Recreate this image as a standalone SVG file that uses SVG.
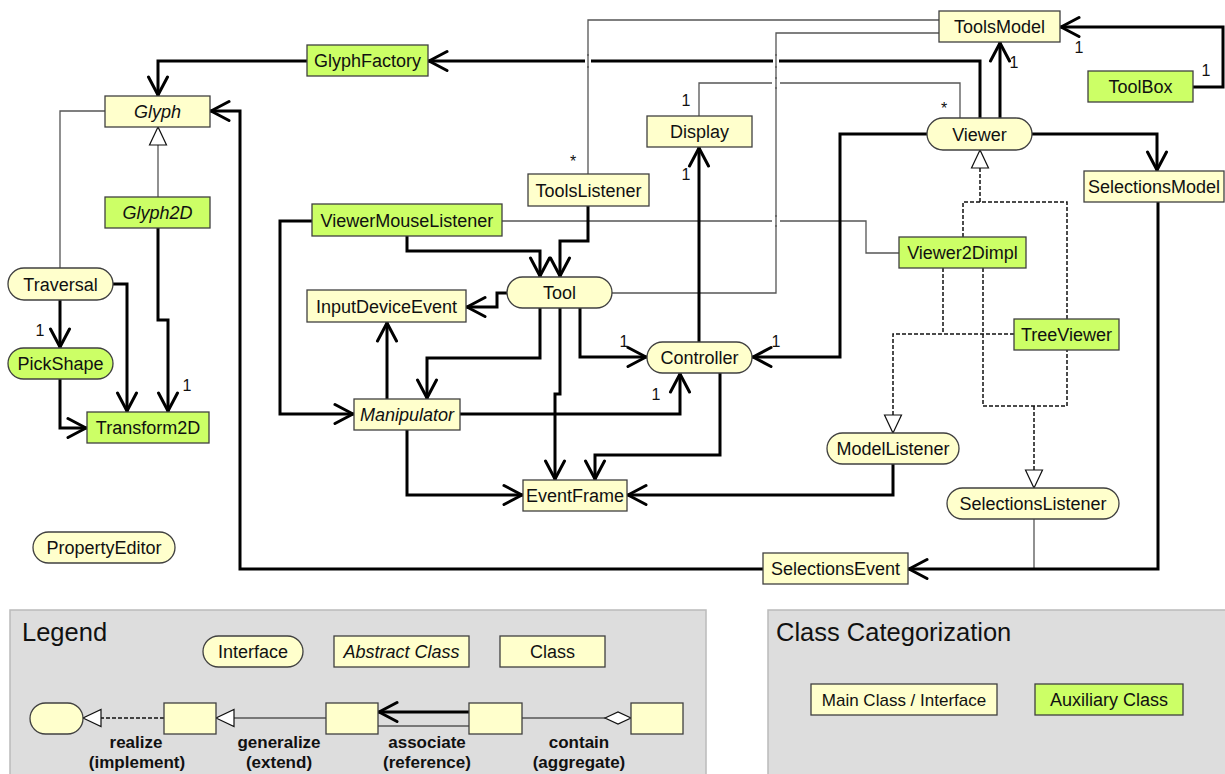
<svg xmlns="http://www.w3.org/2000/svg" width="1225" height="774" viewBox="0 0 1225 774">
  <defs>
    <style>
      .cls { fill: #FFFFCC; stroke: #404040; stroke-width: 1.3; }
      .aux { fill: #CCFF66; stroke: #404040; stroke-width: 1.3; }
      .t { font-family: "Liberation Sans", Arial, sans-serif; font-size: 18px; text-anchor: middle; fill: #111; }
      .it { font-style: italic; }
      .m { font-family: "Liberation Sans", Arial, sans-serif; font-size: 16px; text-anchor: middle; fill: #111; }
      .lb { font-family: "Liberation Sans", Arial, sans-serif; font-size: 17px; font-weight: bold; text-anchor: middle; fill: #111; }
      .title { font-family: "Liberation Sans", Arial, sans-serif; font-size: 25.5px; fill: #111; }
      .assoc { fill: none; stroke: #000; stroke-width: 3; marker-end: url(#open); }
      .thin { fill: none; stroke: #555; stroke-width: 1.3; }
      .real { fill: none; stroke: #111; stroke-width: 1.5; stroke-dasharray: 4 2; }
      .gen { marker-end: url(#tri); }
      .hop { fill: none; stroke: #fff; stroke-width: 6; }
      .panel { fill: #DDDDDD; stroke: #BBBBBB; stroke-width: 1.5; }
    </style>
    <marker id="open" markerUnits="userSpaceOnUse" viewBox="-22 -12 24 24" refX="1" refY="0" markerWidth="24" markerHeight="24" orient="auto">
      <path d="M-18,-9.5 L0,0 L-18,9.5" fill="none" stroke="#000" stroke-width="3" stroke-linejoin="round" stroke-linecap="round"/>
    </marker>
    <marker id="tri" markerUnits="userSpaceOnUse" viewBox="-20 -10 22 20" refX="0" refY="0" markerWidth="22" markerHeight="20" orient="auto">
      <path d="M0,0 L-18,-8.5 L-18,8.5 Z" fill="#fff" stroke="#111" stroke-width="1.2"/>
    </marker>
  </defs>

  <rect width="1225" height="774" fill="#fff"/>

  <!-- connectors -->
  <g id="connectors">
    <!-- plain references -->
    <path class="thin" d="M588,174 V20 H939"/>
    <path class="thin" d="M612,293 H776 V33 H939"/>
    <path class="thin" d="M699,116 V83 H960 V118"/>
    <path class="thin" d="M502,221 H866 V253 H899"/>
    <path class="thin" d="M60,268 V111 H105"/>
    <path class="thin" d="M1034,519 V569"/>

    <!-- realizations -->
    <path class="real" d="M963,237 V202 H1067 V319"/>
    <path class="real gen" d="M980,202 V150"/>
    <path class="real" d="M943,268 V334"/>
    <path class="real gen" d="M1014,334 H893 V433"/>
    <path class="real" d="M983,268 V406 H1067 V350"/>
    <path class="real gen" d="M1034,406 V488"/>

    <!-- generalization -->
    <path class="thin gen" d="M158,197 V127"/>

    <!-- associations -->
    <path class="assoc" d="M307,61 H158 V96"/>
    <path class="assoc" d="M980,118 V61 H428"/>
    <path class="assoc" d="M1000,118 V42"/>
    <path class="assoc" d="M1193,87 H1223 V27 H1060"/>
    <path class="assoc" d="M699,342 V147"/>
    <path class="assoc" d="M927,134 H840 V357 H752"/>
    <path class="assoc" d="M1032,134 H1157 V171"/>
    <path class="assoc" d="M407,236 V251 H540 V277"/>
    <path class="assoc" d="M588,206 V241 H560 V277"/>
    <path class="assoc" d="M507,293 H497 V307 H466"/>
    <path class="assoc" d="M312,221 H280 V414 H354"/>
    <path class="assoc" d="M387,399 V322"/>
    <path class="assoc" d="M540,308 V358 H427 V399"/>
    <path class="assoc" d="M560,308 V394 H555 V480"/>
    <path class="assoc" d="M580,308 V357 H647"/>
    <path class="assoc" d="M460,414 H680 V373"/>
    <path class="assoc" d="M720,373 V455 H595 V480"/>
    <path class="assoc" d="M407,430 V495 H523"/>
    <path class="assoc" d="M893,464 V495 H627"/>
    <path class="assoc" d="M158,228 V320 H168 V412"/>
    <path class="assoc" d="M60,300 V348"/>
    <path class="assoc" d="M113,284 H127 V412"/>
    <path class="assoc" d="M60,379 V428 H87"/>
    <path class="assoc" d="M763,569 H240 V111 H210"/>
    <path class="assoc" d="M1158,202 V569 H908"/>

    <!-- line hops where references cross -->
    <path class="hop" d="M588,56 V66 M776,56 V66"/>
    <path class="thin" d="M588,54 V68 M776,54 V68"/>
    <path class="hop" style="stroke-width:8" d="M772,83 H780 M772,221 H780"/>
    <path class="thin" d="M776,77 V89 M776,215 V227"/>

    <!-- multiplicities -->
    <text class="m" x="1014" y="68">1</text>
    <text class="m" x="1079" y="53">1</text>
    <text class="m" x="1206" y="76">1</text>
    <text class="m" x="573" y="167">*</text>
    <text class="m" x="686" y="106">1</text>
    <text class="m" x="686" y="180">1</text>
    <text class="m" x="944" y="114">*</text>
    <text class="m" x="776" y="347">1</text>
    <text class="m" x="624" y="347">1</text>
    <text class="m" x="656" y="400">1</text>
    <text class="m" x="40" y="336">1</text>
    <text class="m" x="187" y="391">1</text>
  </g>

  <!-- nodes -->
  <g id="ToolsModel"><rect class="cls" x="939" y="11" width="121" height="31"/><text class="t" x="999.5" y="33">ToolsModel</text></g>
  <g id="GlyphFactory"><rect class="aux" x="307" y="45" width="121" height="31"/><text class="t" x="367.5" y="67">GlyphFactory</text></g>
  <g id="ToolBox"><rect class="aux" x="1088" y="71" width="105" height="31"/><text class="t" x="1140.5" y="93">ToolBox</text></g>
  <g id="Glyph"><rect class="cls" x="105" y="96" width="105" height="31"/><text class="t it" x="157.5" y="118">Glyph</text></g>
  <g id="Display"><rect class="cls" x="647" y="116" width="105" height="31"/><text class="t" x="699.5" y="138">Display</text></g>
  <g id="Viewer"><rect class="cls" x="927" y="118" width="105" height="32" rx="16"/><text class="t" x="979.5" y="140.5">Viewer</text></g>
  <g id="ToolsListener"><rect class="cls" x="528" y="174" width="121" height="32"/><text class="t" x="588.5" y="196.5">ToolsListener</text></g>
  <g id="SelectionsModel"><rect class="cls" x="1084" y="171" width="140" height="31"/><text class="t" x="1154" y="193">SelectionsModel</text></g>
  <g id="Glyph2D"><rect class="aux" x="105" y="197" width="105" height="31"/><text class="t it" x="157.5" y="219">Glyph2D</text></g>
  <g id="ViewerMouseListener"><rect class="aux" x="312" y="204" width="190" height="32"/><text class="t" x="407" y="226.5">ViewerMouseListener</text></g>
  <g id="Viewer2Dimpl"><rect class="aux" x="899" y="237" width="127" height="31"/><text class="t" x="962.5" y="259">Viewer2Dimpl</text></g>
  <g id="Traversal"><rect class="cls" x="8" y="268" width="105" height="32" rx="16"/><text class="t" x="60.5" y="290.5">Traversal</text></g>
  <g id="Tool"><rect class="cls" x="507" y="277" width="105" height="31" rx="15.5"/><text class="t" x="559.5" y="299">Tool</text></g>
  <g id="InputDeviceEvent"><rect class="cls" x="307" y="290" width="159" height="32"/><text class="t" x="386.5" y="312.5">InputDeviceEvent</text></g>
  <g id="TreeViewer"><rect class="aux" x="1014" y="319" width="105" height="31"/><text class="t" x="1066.5" y="341">TreeViewer</text></g>
  <g id="Controller"><rect class="cls" x="647" y="342" width="105" height="31" rx="15.5"/><text class="t" x="699.5" y="364">Controller</text></g>
  <g id="PickShape"><rect class="aux" x="8" y="348" width="105" height="31" rx="15.5"/><text class="t" x="60.5" y="370">PickShape</text></g>
  <g id="Manipulator"><rect class="cls" x="354" y="399" width="106" height="31"/><text class="t it" x="407" y="421">Manipulator</text></g>
  <g id="Transform2D"><rect class="aux" x="87" y="412" width="122" height="31"/><text class="t" x="148" y="434">Transform2D</text></g>
  <g id="ModelListener"><rect class="cls" x="827" y="433" width="132" height="31" rx="15.5"/><text class="t" x="893" y="455">ModelListener</text></g>
  <g id="EventFrame"><rect class="cls" x="523" y="480" width="104" height="31"/><text class="t" x="575" y="502">EventFrame</text></g>
  <g id="SelectionsListener"><rect class="cls" x="947" y="488" width="172" height="31" rx="15.5"/><text class="t" x="1033" y="510">SelectionsListener</text></g>
  <g id="PropertyEditor"><rect class="cls" x="33" y="532" width="142" height="31" rx="15.5"/><text class="t" x="104" y="554">PropertyEditor</text></g>
  <g id="SelectionsEvent"><rect class="cls" x="763" y="553" width="145" height="31"/><text class="t" x="835.5" y="575">SelectionsEvent</text></g>

  <!-- legend panel -->
  <g id="legend">
    <rect class="panel" x="10" y="610" width="696" height="170"/>
    <text class="title" x="22" y="641">Legend</text>
    <rect class="cls" x="203" y="636" width="100" height="31" rx="15.5"/>
    <text class="t" x="253" y="658">Interface</text>
    <rect class="cls" x="334" y="636" width="135" height="31"/>
    <text class="t it" x="401.5" y="658">Abstract Class</text>
    <rect class="cls" x="500" y="636" width="105" height="31"/>
    <text class="t" x="552.5" y="658">Class</text>

    <path class="real gen" d="M164,718 H83"/>
    <path class="thin gen" d="M326,718 H216"/>
    <path class="assoc" d="M469,712 H378"/>
    <path class="thin" d="M378,726 H469"/>
    <path class="thin" d="M522,718 H605"/>
    <path d="M605,718 L618,712 L631,718 L618,724 Z" fill="#fff" stroke="#111" stroke-width="1.2"/>

    <rect class="cls" x="30" y="703" width="53" height="31" rx="15.5"/>
    <rect class="cls" x="164" y="703" width="52" height="31"/>
    <rect class="cls" x="326" y="703" width="52" height="31"/>
    <rect class="cls" x="469" y="703" width="53" height="31"/>
    <rect class="cls" x="631" y="703" width="52" height="31"/>

    <text class="lb" x="136" y="748">realize</text>
    <text class="lb" x="137" y="768">(implement)</text>
    <text class="lb" x="279" y="748">generalize</text>
    <text class="lb" x="279" y="768">(extend)</text>
    <text class="lb" x="427" y="748">associate</text>
    <text class="lb" x="427" y="768">(reference)</text>
    <text class="lb" x="579" y="748">contain</text>
    <text class="lb" x="579" y="768">(aggregate)</text>
  </g>

  <!-- class categorization panel -->
  <g id="categorization">
    <rect class="panel" x="768" y="610" width="460" height="170"/>
    <text class="title" x="776" y="641">Class Categorization</text>
    <rect class="cls" x="811" y="684" width="186" height="31"/>
    <text class="t" x="904" y="706" style="font-size:17px">Main Class / Interface</text>
    <rect class="aux" x="1035" y="684" width="148" height="31"/>
    <text class="t" x="1109" y="706">Auxiliary Class</text>
  </g>
</svg>
